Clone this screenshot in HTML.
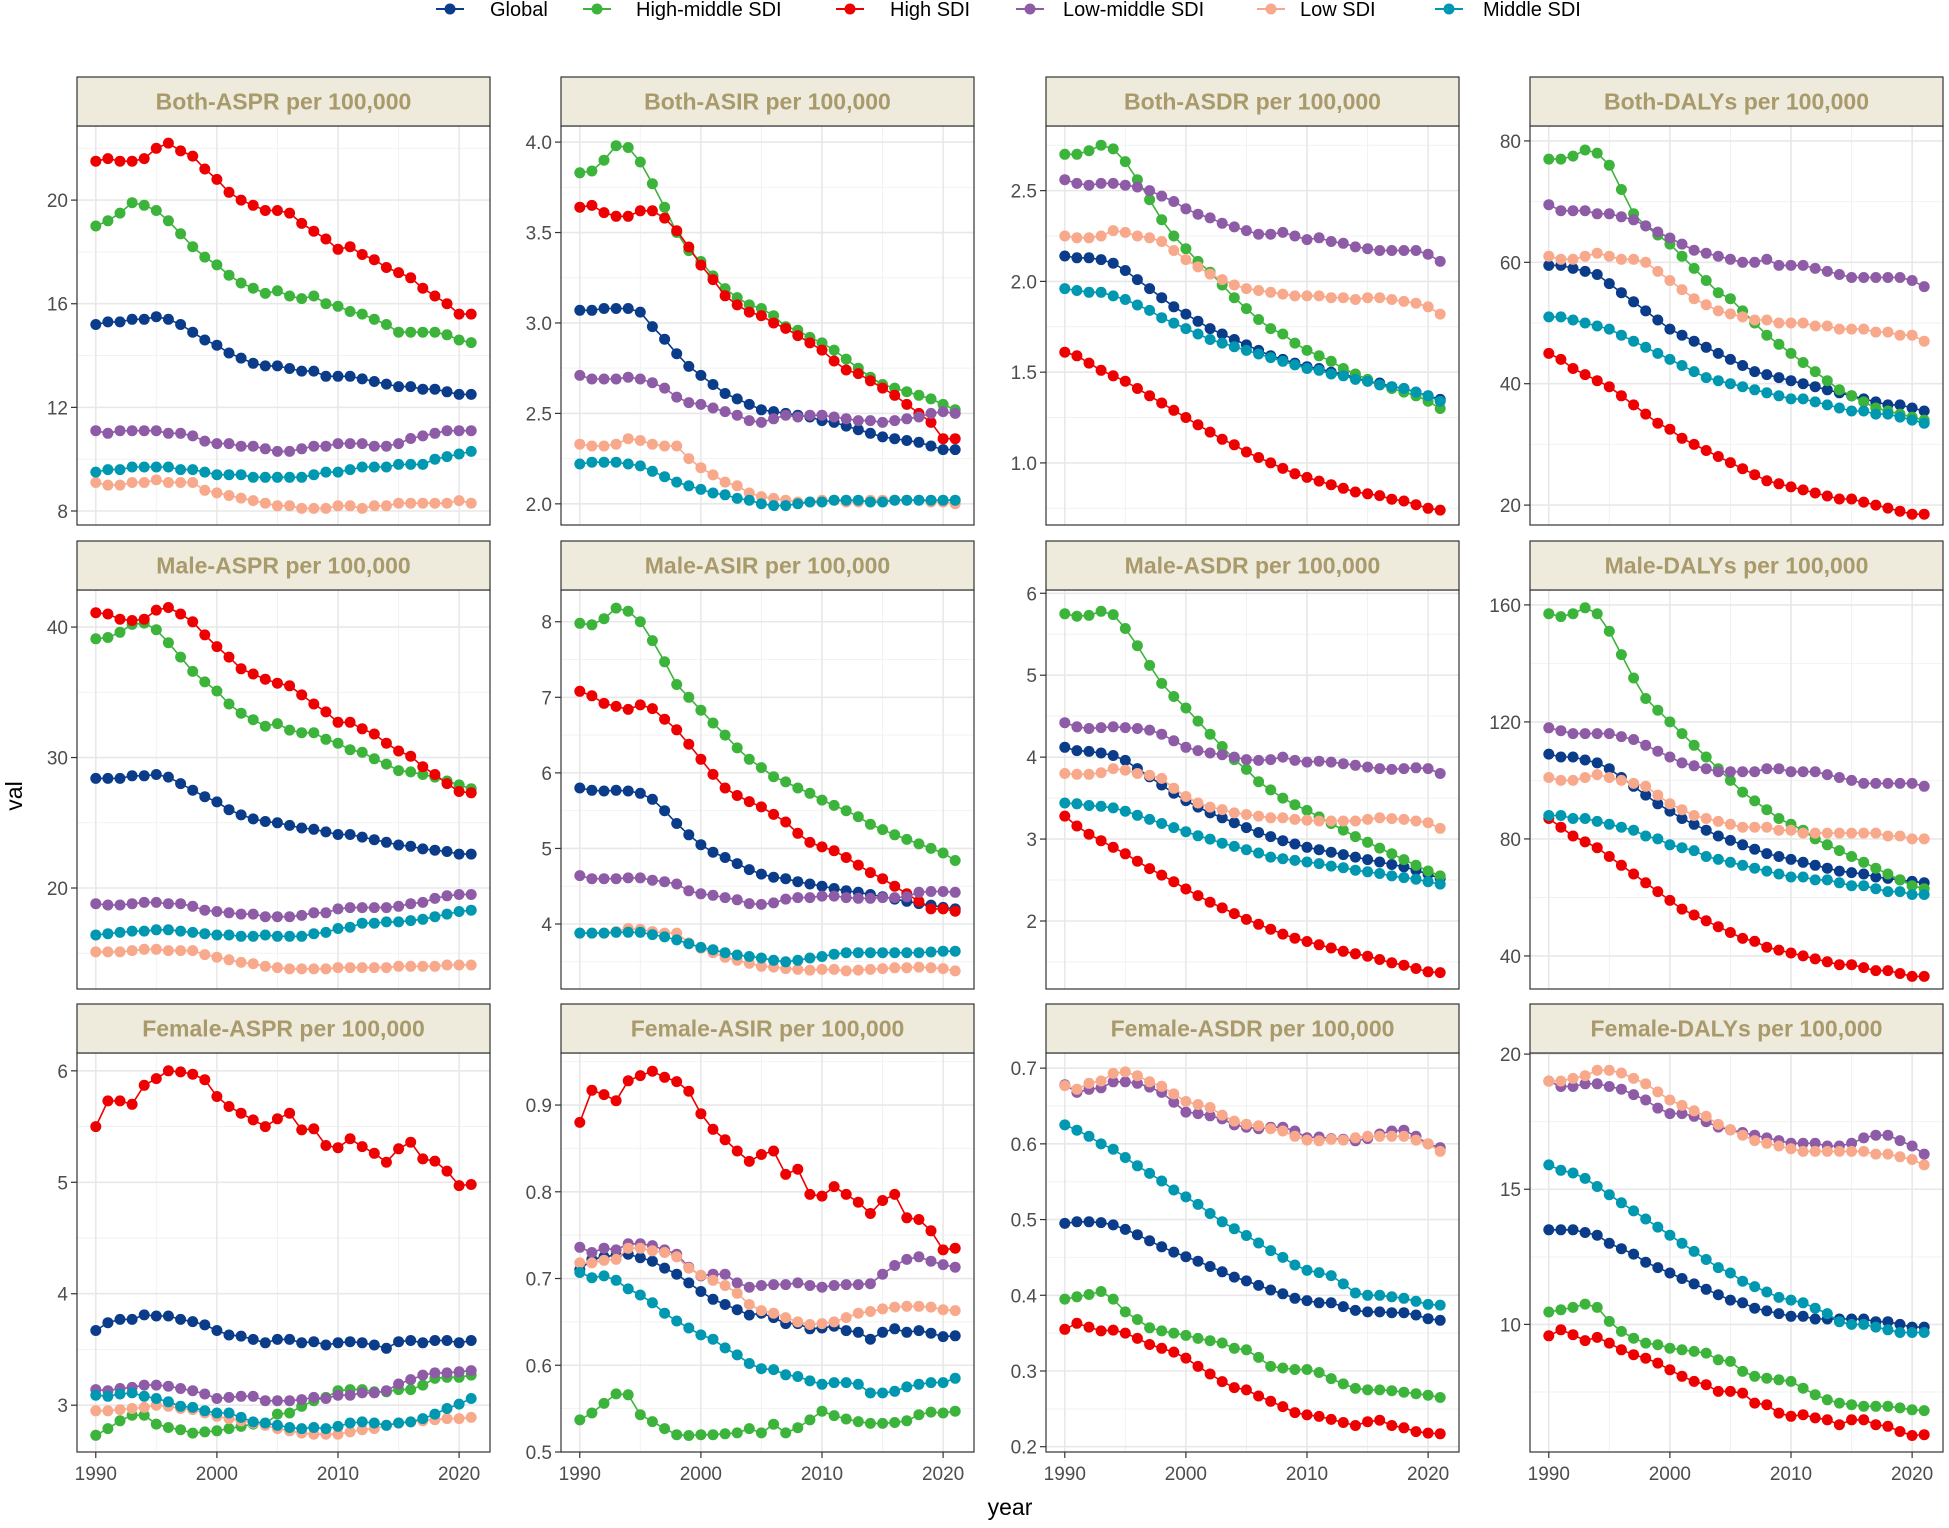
<!DOCTYPE html>
<html><head><meta charset="utf-8">
<style>
html,body{margin:0;padding:0;background:#fff;}
body{width:1949px;height:1523px;overflow:hidden;font-family:"Liberation Sans",sans-serif;}
</style></head>
<body>
<svg id="chart" width="1949" height="1523" xmlns="http://www.w3.org/2000/svg" font-family="Liberation Sans, sans-serif"></svg>
<script>
const years = [];
for (let y = 1990; y <= 2021; y++) years.push(y);
const seriesNames = ["Global","High-middle SDI","High SDI","Low-middle SDI","Low SDI","Middle SDI"];
const seriesColors = ["#0a3c8a","#3cb43c","#ee0000","#8e5ba6","#f9a98b","#0098b0"];
const panelTitles = ["Both-ASPR per 100,000","Both-ASIR per 100,000","Both-ASDR per 100,000","Both-DALYs per 100,000","Male-ASPR per 100,000","Male-ASIR per 100,000","Male-ASDR per 100,000","Male-DALYs per 100,000","Female-ASPR per 100,000","Female-ASIR per 100,000","Female-ASDR per 100,000","Female-DALYs per 100,000"];
const xTicks = [1990,2000,2010,2020];
const yTicks1=[8,12,16,20], yTicks2=[2.0,2.5,3.0,3.5,4.0], yTicks3=[1.0,1.5,2.0,2.5], yTicks4=[20,40,60,80];
const yTicks5=[20,30,40], yTicks6=[4,5,6,7,8], yTicks7=[2,3,4,5,6], yTicks8=[40,80,120,160];
const yTicks9=[3,4,5,6], yTicks10=[0.5,0.6,0.7,0.8,0.9], yTicks11=[0.2,0.3,0.4,0.5,0.6,0.7], yTicks12=[10,15,20];
const yRange1=[7.46,22.86], yRange2=[1.883,4.089], yRange3=[0.658,2.856], yRange4=[16.72,82.46];
const yRange5=[12.26,42.84], yRange6=[3.14,8.42], yRange7=[1.17,6.04], yRange8=[28.7,165.1];
const yRange9=[2.58,6.16], yRange10=[0.5,0.96], yRange11=[0.193,0.72], yRange12=[5.28,20.04];
const tickDecimals=[0,1,1,0,0,0,0,0,0,1,1,0];

// Panel 1 Both-ASPR
const p1_global=[15.2,15.3,15.3,15.4,15.4,15.5,15.4,15.2,14.9,14.6,14.4,14.1,13.9,13.7,13.6,13.6,13.5,13.4,13.4,13.2,13.2,13.2,13.1,13.0,12.9,12.8,12.8,12.7,12.7,12.6,12.5,12.5];
const p1_highmid=[19.0,19.2,19.5,19.9,19.8,19.6,19.2,18.7,18.2,17.8,17.5,17.1,16.8,16.6,16.4,16.5,16.3,16.2,16.3,16.0,15.9,15.7,15.6,15.4,15.2,14.9,14.9,14.9,14.9,14.8,14.6,14.5];
const p1_high=[21.5,21.6,21.5,21.5,21.6,22.0,22.2,21.9,21.7,21.2,20.8,20.3,20.0,19.8,19.6,19.6,19.5,19.1,18.8,18.5,18.1,18.2,17.9,17.7,17.4,17.2,17.0,16.6,16.3,16.0,15.6,15.6];
const p1_lowmid=[11.1,11.0,11.1,11.1,11.1,11.1,11.0,11.0,10.9,10.7,10.6,10.6,10.5,10.5,10.4,10.3,10.3,10.4,10.5,10.5,10.6,10.6,10.6,10.5,10.5,10.6,10.8,10.9,11.0,11.1,11.1,11.1];
const p1_low=[9.1,9.0,9.0,9.1,9.1,9.2,9.1,9.1,9.1,8.8,8.7,8.6,8.5,8.4,8.3,8.2,8.2,8.1,8.1,8.1,8.2,8.2,8.1,8.2,8.2,8.3,8.3,8.3,8.3,8.3,8.4,8.3];
const p1_middle=[9.5,9.6,9.6,9.7,9.7,9.7,9.7,9.6,9.6,9.5,9.4,9.4,9.4,9.3,9.3,9.3,9.3,9.3,9.4,9.5,9.5,9.6,9.7,9.7,9.7,9.8,9.8,9.8,10.0,10.1,10.2,10.3];
// Panel 2 Both-ASIR
const p2_global=[3.07,3.07,3.08,3.08,3.08,3.06,2.98,2.91,2.83,2.76,2.71,2.66,2.61,2.58,2.55,2.52,2.51,2.50,2.49,2.48,2.46,2.45,2.43,2.41,2.39,2.37,2.36,2.35,2.34,2.32,2.30,2.30];
const p2_highmid=[3.83,3.84,3.90,3.98,3.97,3.89,3.77,3.64,3.50,3.40,3.34,3.26,3.19,3.14,3.10,3.08,3.04,2.98,2.96,2.92,2.89,2.85,2.80,2.75,2.70,2.66,2.64,2.62,2.60,2.58,2.55,2.52];
const p2_high=[3.64,3.65,3.61,3.59,3.59,3.62,3.62,3.58,3.51,3.42,3.32,3.24,3.15,3.10,3.06,3.04,3.00,2.97,2.93,2.89,2.85,2.79,2.74,2.72,2.68,2.64,2.60,2.55,2.50,2.45,2.36,2.36];
const p2_lowmid=[2.71,2.69,2.69,2.69,2.70,2.69,2.67,2.64,2.59,2.56,2.55,2.53,2.51,2.49,2.46,2.45,2.47,2.49,2.48,2.49,2.49,2.48,2.47,2.46,2.46,2.45,2.46,2.47,2.48,2.50,2.51,2.50];
const p2_low=[2.33,2.32,2.32,2.33,2.36,2.35,2.33,2.32,2.32,2.25,2.20,2.16,2.12,2.10,2.06,2.04,2.03,2.02,2.01,2.01,2.02,2.02,2.01,2.01,2.02,2.02,2.02,2.02,2.02,2.01,2.01,2.00];
const p2_middle=[2.22,2.23,2.23,2.23,2.22,2.21,2.18,2.15,2.12,2.10,2.08,2.06,2.05,2.03,2.02,2.00,1.99,1.99,2.00,2.01,2.01,2.02,2.02,2.02,2.01,2.01,2.02,2.02,2.02,2.02,2.02,2.02];
// Panel 3 Both-ASDR
const p3_global=[2.14,2.13,2.13,2.12,2.10,2.06,2.01,1.96,1.91,1.86,1.82,1.78,1.74,1.71,1.68,1.65,1.62,1.59,1.57,1.55,1.53,1.52,1.50,1.49,1.47,1.45,1.44,1.42,1.41,1.39,1.37,1.35];
const p3_highmid=[2.70,2.70,2.72,2.75,2.73,2.66,2.56,2.45,2.34,2.25,2.18,2.11,2.05,1.98,1.91,1.85,1.79,1.74,1.71,1.66,1.62,1.59,1.56,1.52,1.49,1.46,1.43,1.41,1.39,1.37,1.34,1.30];
const p3_high=[1.61,1.59,1.55,1.51,1.48,1.45,1.41,1.37,1.33,1.29,1.25,1.21,1.17,1.13,1.10,1.06,1.03,1.00,0.97,0.94,0.92,0.90,0.88,0.86,0.84,0.83,0.82,0.80,0.79,0.77,0.75,0.74];
const p3_lowmid=[2.56,2.54,2.53,2.54,2.54,2.53,2.52,2.50,2.47,2.44,2.40,2.37,2.35,2.32,2.30,2.28,2.26,2.26,2.27,2.25,2.23,2.24,2.22,2.21,2.19,2.18,2.17,2.17,2.17,2.17,2.15,2.11];
const p3_low=[2.25,2.24,2.24,2.25,2.28,2.27,2.25,2.24,2.22,2.17,2.12,2.08,2.04,2.01,1.98,1.96,1.95,1.94,1.93,1.92,1.92,1.92,1.91,1.91,1.90,1.91,1.91,1.90,1.89,1.88,1.86,1.82];
const p3_middle=[1.96,1.95,1.94,1.94,1.92,1.90,1.87,1.84,1.80,1.77,1.74,1.71,1.68,1.66,1.64,1.62,1.60,1.58,1.56,1.54,1.52,1.51,1.49,1.48,1.46,1.45,1.43,1.42,1.41,1.39,1.37,1.34];
// Panel 4 Both-DALYs
const p4_global=[59.5,59.5,59,58.5,58,56.5,55,53.5,52,50.5,49,48,47,46,45,44,43,42,41.5,41,40.5,40,39.5,39,38.5,38,37.5,37,36.5,36.5,36,35.5];
const p4_highmid=[77,77,77.5,78.5,78,76,72,68,66,64.5,63,61,59,57,55,54,52,50,48,46.5,45,43.5,42,40.5,39,38,37,36,35.5,35,34.5,34];
const p4_high=[45,44,42.5,41.5,40.5,39.5,38,36.5,35,33.5,32.5,31,30,29,28,27,26,25,24,23.5,23,22.5,22,21.5,21,21,20.5,20,19.5,19,18.5,18.5];
const p4_lowmid=[69.5,68.5,68.5,68.5,68,68,67.5,67,66,65,64,63,62,61.5,61,60.5,60,60,60.5,59.5,59.5,59.5,59,58.5,58,57.5,57.5,57.5,57.5,57.5,57,56];
const p4_low=[61,60.5,60.5,61,61.5,61,60.5,60.5,60,58.5,57,55.5,54,53,52,51.5,51,50.5,50.5,50,50,50,49.5,49.5,49,49,49,48.5,48.5,48,48,47];
const p4_middle=[51,51,50.5,50,49.5,49,48,47,46,45,44,43,42,41,40.5,40,39.5,39,38.5,38,37.5,37.5,37,36.5,36,35.5,35.5,35,35,34.5,34,33.5];
// Panel 5 Male-ASPR
const p5_global=[28.4,28.4,28.4,28.6,28.6,28.7,28.5,28.0,27.5,27.0,26.6,26.0,25.6,25.3,25.1,25.0,24.8,24.6,24.5,24.3,24.1,24.1,23.9,23.7,23.5,23.3,23.2,23.0,22.9,22.8,22.6,22.6];
const p5_highmid=[39.1,39.2,39.6,40.2,40.3,39.8,38.8,37.7,36.6,35.8,35.1,34.1,33.4,32.9,32.4,32.6,32.1,31.9,31.9,31.4,31.1,30.6,30.4,29.9,29.5,29.0,28.9,28.7,28.5,28.2,27.9,27.6];
const p5_high=[41.1,41.0,40.6,40.5,40.6,41.3,41.5,41.0,40.4,39.4,38.5,37.7,36.8,36.4,36.0,35.7,35.5,34.8,34.1,33.5,32.7,32.7,32.2,31.8,31.1,30.5,30.1,29.3,28.7,28.0,27.4,27.3];
const p5_lowmid=[18.8,18.7,18.7,18.8,18.9,18.9,18.8,18.8,18.6,18.3,18.2,18.1,18.0,18.0,17.8,17.8,17.8,17.9,18.1,18.1,18.4,18.5,18.5,18.5,18.5,18.6,18.8,18.9,19.2,19.4,19.5,19.5];
const p5_low=[15.1,15.1,15.1,15.2,15.3,15.3,15.2,15.2,15.2,14.9,14.7,14.5,14.3,14.2,14.0,13.9,13.8,13.8,13.8,13.8,13.9,13.9,13.9,13.9,13.9,14.0,14.0,14.0,14.0,14.1,14.1,14.1];
const p5_middle=[16.4,16.5,16.6,16.7,16.7,16.8,16.8,16.7,16.6,16.5,16.4,16.4,16.3,16.3,16.4,16.3,16.3,16.3,16.5,16.6,16.9,17.0,17.3,17.3,17.4,17.4,17.5,17.6,17.8,18.0,18.2,18.3];
// Panel 6 Male-ASIR
const p6_global=[5.8,5.77,5.76,5.77,5.76,5.73,5.65,5.5,5.33,5.18,5.05,4.95,4.88,4.8,4.72,4.66,4.62,4.6,4.56,4.53,4.5,4.47,4.44,4.42,4.39,4.36,4.33,4.3,4.27,4.25,4.22,4.2];
const p6_highmid=[7.98,7.96,8.04,8.18,8.14,8.0,7.75,7.47,7.17,7.0,6.83,6.66,6.5,6.33,6.18,6.07,5.95,5.88,5.8,5.73,5.64,5.57,5.5,5.42,5.32,5.25,5.18,5.12,5.06,5.0,4.94,4.84];
const p6_high=[7.08,7.02,6.92,6.88,6.84,6.90,6.85,6.71,6.57,6.38,6.18,5.98,5.8,5.7,5.62,5.55,5.45,5.35,5.2,5.08,5.02,4.97,4.88,4.78,4.68,4.6,4.5,4.4,4.3,4.2,4.2,4.17];
const p6_lowmid=[4.64,4.6,4.6,4.6,4.61,4.61,4.58,4.56,4.53,4.44,4.4,4.38,4.35,4.32,4.27,4.26,4.28,4.33,4.35,4.35,4.37,4.37,4.35,4.34,4.34,4.35,4.35,4.36,4.42,4.43,4.43,4.42];
const p6_low=[3.88,3.88,3.88,3.9,3.94,3.93,3.9,3.88,3.88,3.75,3.68,3.62,3.56,3.52,3.48,3.44,3.43,3.41,3.40,3.39,3.40,3.40,3.38,3.39,3.40,3.41,3.42,3.42,3.43,3.42,3.41,3.38];
const p6_middle=[3.88,3.88,3.88,3.89,3.89,3.89,3.86,3.83,3.79,3.74,3.69,3.66,3.62,3.59,3.57,3.55,3.52,3.50,3.52,3.55,3.57,3.60,3.62,3.62,3.62,3.62,3.62,3.62,3.62,3.63,3.64,3.64];
// Panel 7 Male-ASDR
const p7_global=[4.12,4.08,4.07,4.05,4.02,3.96,3.86,3.76,3.66,3.56,3.47,3.39,3.32,3.26,3.2,3.14,3.08,3.03,2.98,2.94,2.9,2.87,2.84,2.81,2.78,2.75,2.72,2.69,2.66,2.62,2.57,2.52];
const p7_highmid=[5.75,5.72,5.73,5.78,5.74,5.57,5.36,5.12,4.9,4.74,4.6,4.44,4.28,4.13,3.97,3.85,3.7,3.6,3.5,3.42,3.35,3.27,3.19,3.11,3.03,2.96,2.89,2.82,2.75,2.68,2.61,2.55];
const p7_high=[3.28,3.16,3.06,2.98,2.9,2.82,2.73,2.64,2.56,2.48,2.39,2.31,2.23,2.16,2.09,2.02,1.96,1.9,1.84,1.79,1.75,1.71,1.67,1.63,1.6,1.57,1.53,1.49,1.46,1.42,1.38,1.37];
const p7_lowmid=[4.42,4.37,4.35,4.36,4.37,4.36,4.35,4.33,4.28,4.2,4.12,4.08,4.05,4.03,4.0,3.97,3.96,3.97,4.0,3.96,3.94,3.95,3.94,3.92,3.90,3.88,3.86,3.85,3.86,3.87,3.86,3.80];
const p7_low=[3.8,3.79,3.79,3.81,3.86,3.84,3.8,3.78,3.74,3.62,3.52,3.44,3.39,3.36,3.32,3.3,3.28,3.26,3.26,3.24,3.23,3.22,3.22,3.22,3.22,3.24,3.26,3.25,3.24,3.22,3.2,3.13];
const p7_middle=[3.44,3.43,3.41,3.4,3.38,3.34,3.29,3.24,3.19,3.14,3.09,3.04,3.0,2.95,2.91,2.87,2.83,2.78,2.76,2.74,2.72,2.7,2.67,2.65,2.62,2.6,2.58,2.55,2.53,2.51,2.48,2.45];
// Panel 8 Male-DALYs
const p8_global=[109,108,108,107,106,104,101,98,95,92,89.5,87,85,83,81,79.5,78,76.5,75,74,73,72,71,70,69,68.5,68,67,66.5,66,65.5,65];
const p8_highmid=[157,156,157,159,157,151,143,135,128,124,120,116,112,108,104,100,96,93,90,87,85,83,80,78,76,74,72,70,68,66,64,63];
const p8_high=[87,84,81,79,77,74,71,68,65,62,59,56,54,52,50,48,46,45,43,42,41,40,39,38,37,37,36,35,35,34,33,33];
const p8_lowmid=[118,117,116,116,116,116,115,114,112,110,108,106,105,104,103,103,103,103,104,104,103,103,103,102,101,100,99,99,99,99,99,98];
const p8_low=[101,100,100,101,102,101,100,99,98,95,92,90,88,87,86,85,84,84,84,83,83,82,82,82,82,82,82,82,81,81,80,80];
const p8_middle=[88,88,87,87,86,85,84,83,81,80,78,77,76,74,73,72,71,70,69,68,67,67,66,66,65,64,64,63,62,62,61,61];
// Panel 9 Female-ASPR
const p9_global=[3.67,3.74,3.77,3.77,3.81,3.8,3.8,3.77,3.75,3.72,3.67,3.63,3.62,3.59,3.56,3.59,3.59,3.56,3.57,3.54,3.56,3.57,3.56,3.54,3.51,3.57,3.58,3.56,3.58,3.58,3.56,3.58];
const p9_highmid=[2.73,2.79,2.86,2.91,2.91,2.83,2.8,2.78,2.75,2.76,2.77,2.79,2.81,2.83,2.83,2.92,2.93,2.99,3.04,3.07,3.13,3.14,3.14,3.12,3.12,3.14,3.14,3.18,3.24,3.25,3.25,3.27];
const p9_high=[5.5,5.73,5.73,5.7,5.87,5.93,6.0,5.99,5.97,5.92,5.77,5.68,5.62,5.56,5.5,5.57,5.62,5.47,5.48,5.33,5.31,5.39,5.32,5.26,5.18,5.3,5.36,5.21,5.19,5.1,4.97,4.98];
const p9_lowmid=[3.14,3.13,3.15,3.16,3.18,3.18,3.17,3.15,3.13,3.1,3.06,3.07,3.08,3.08,3.04,3.04,3.04,3.05,3.07,3.06,3.09,3.09,3.11,3.11,3.13,3.19,3.23,3.27,3.29,3.29,3.30,3.31];
const p9_low=[2.95,2.95,2.96,2.97,2.98,3.0,2.99,2.97,2.96,2.93,2.9,2.88,2.86,2.84,2.82,2.79,2.77,2.75,2.74,2.74,2.74,2.76,2.78,2.79,2.82,2.84,2.85,2.86,2.87,2.88,2.88,2.89];
const p9_middle=[3.09,3.08,3.1,3.11,3.08,3.06,3.03,2.99,2.98,2.95,2.93,2.93,2.89,2.85,2.84,2.82,2.8,2.79,2.8,2.79,2.81,2.84,2.85,2.84,2.82,2.84,2.85,2.88,2.92,2.97,3.01,3.06];
// Panel 10 Female-ASIR
const p10_global=[0.71,0.722,0.725,0.727,0.728,0.724,0.72,0.712,0.705,0.695,0.685,0.676,0.67,0.664,0.658,0.66,0.655,0.648,0.648,0.642,0.643,0.645,0.64,0.638,0.63,0.638,0.642,0.638,0.64,0.637,0.633,0.634];
const p10_highmid=[0.537,0.545,0.556,0.567,0.566,0.543,0.535,0.527,0.52,0.519,0.52,0.52,0.521,0.522,0.527,0.522,0.532,0.522,0.528,0.537,0.547,0.542,0.538,0.535,0.533,0.533,0.534,0.536,0.543,0.546,0.545,0.547];
const p10_high=[0.88,0.917,0.912,0.905,0.928,0.934,0.939,0.932,0.927,0.916,0.89,0.872,0.86,0.847,0.835,0.843,0.847,0.82,0.826,0.797,0.795,0.806,0.797,0.788,0.775,0.79,0.797,0.77,0.768,0.755,0.733,0.735];
const p10_lowmid=[0.736,0.73,0.735,0.733,0.74,0.74,0.738,0.733,0.728,0.713,0.703,0.705,0.705,0.695,0.69,0.692,0.693,0.693,0.695,0.692,0.69,0.692,0.693,0.693,0.694,0.705,0.715,0.722,0.725,0.72,0.716,0.713];
const p10_low=[0.718,0.718,0.721,0.722,0.735,0.735,0.732,0.73,0.725,0.712,0.704,0.698,0.692,0.683,0.67,0.663,0.66,0.655,0.65,0.647,0.648,0.65,0.655,0.66,0.662,0.665,0.667,0.668,0.668,0.667,0.664,0.663];
const p10_middle=[0.707,0.701,0.703,0.698,0.688,0.681,0.672,0.66,0.651,0.643,0.635,0.63,0.62,0.612,0.602,0.596,0.595,0.589,0.587,0.582,0.578,0.58,0.58,0.578,0.568,0.568,0.57,0.575,0.578,0.58,0.58,0.585];
// Panel 11 Female-ASDR
const p11_global=[0.495,0.497,0.497,0.496,0.493,0.487,0.48,0.472,0.464,0.457,0.451,0.445,0.438,0.431,0.424,0.419,0.413,0.407,0.402,0.396,0.393,0.39,0.39,0.385,0.38,0.378,0.378,0.377,0.377,0.374,0.369,0.367];
const p11_highmid=[0.395,0.398,0.401,0.405,0.395,0.378,0.368,0.357,0.353,0.35,0.347,0.343,0.34,0.337,0.33,0.328,0.318,0.306,0.304,0.302,0.302,0.298,0.29,0.283,0.277,0.275,0.275,0.274,0.272,0.27,0.268,0.265];
const p11_high=[0.355,0.363,0.358,0.353,0.354,0.35,0.343,0.335,0.33,0.325,0.317,0.306,0.296,0.286,0.278,0.275,0.267,0.26,0.253,0.245,0.242,0.24,0.236,0.232,0.228,0.233,0.235,0.228,0.225,0.22,0.218,0.217];
const p11_lowmid=[0.678,0.668,0.672,0.674,0.682,0.682,0.68,0.675,0.668,0.655,0.642,0.64,0.637,0.633,0.625,0.622,0.62,0.622,0.622,0.617,0.608,0.609,0.607,0.606,0.604,0.607,0.613,0.617,0.618,0.61,0.6,0.595];
const p11_low=[0.677,0.672,0.68,0.683,0.693,0.695,0.69,0.682,0.676,0.666,0.656,0.652,0.648,0.638,0.63,0.626,0.624,0.62,0.617,0.61,0.605,0.604,0.606,0.605,0.608,0.61,0.61,0.61,0.61,0.605,0.6,0.59];
const p11_middle=[0.625,0.618,0.61,0.6,0.593,0.582,0.571,0.561,0.551,0.539,0.53,0.52,0.508,0.497,0.488,0.479,0.469,0.459,0.45,0.44,0.433,0.43,0.426,0.415,0.403,0.4,0.4,0.398,0.396,0.392,0.388,0.387];
// Panel 12 Female-DALYs
const p12_global=[13.5,13.5,13.5,13.4,13.3,13.0,12.8,12.6,12.3,12.1,11.9,11.7,11.5,11.3,11.1,10.9,10.8,10.6,10.5,10.4,10.3,10.3,10.2,10.2,10.2,10.2,10.2,10.1,10.1,10.0,9.9,9.9];
const p12_highmid=[10.46,10.54,10.63,10.75,10.63,10.11,9.74,9.49,9.31,9.25,9.12,9.06,9.0,8.94,8.69,8.63,8.26,8.08,8.01,7.95,7.89,7.64,7.4,7.21,7.09,7.03,6.97,6.97,6.97,6.91,6.84,6.81];
const p12_high=[9.58,9.8,9.62,9.4,9.52,9.31,9.06,8.88,8.75,8.57,8.32,8.08,7.89,7.77,7.52,7.52,7.46,7.09,7.03,6.72,6.6,6.66,6.54,6.47,6.29,6.47,6.47,6.29,6.23,6.04,5.89,5.92];
const p12_lowmid=[19,18.8,18.8,18.9,18.9,18.8,18.7,18.5,18.3,18.0,17.8,17.8,17.7,17.5,17.3,17.2,17.1,17.0,16.9,16.8,16.7,16.7,16.7,16.6,16.6,16.7,16.9,17.0,17.0,16.8,16.6,16.3];
const p12_low=[19,19,19.1,19.2,19.4,19.4,19.3,19.1,18.9,18.6,18.3,18.1,17.9,17.7,17.4,17.2,17.0,16.8,16.7,16.6,16.5,16.4,16.4,16.4,16.4,16.4,16.4,16.3,16.3,16.2,16.1,15.9];
const p12_middle=[15.9,15.7,15.6,15.4,15.1,14.8,14.5,14.2,13.9,13.6,13.3,13.0,12.7,12.4,12.1,11.9,11.6,11.4,11.2,11.0,10.9,10.8,10.6,10.4,10.1,10.0,10.0,9.9,9.8,9.7,9.7,9.7];

const panelData=[
 [p1_global,p1_highmid,p1_high,p1_lowmid,p1_low,p1_middle],
 [p2_global,p2_highmid,p2_high,p2_lowmid,p2_low,p2_middle],
 [p3_global,p3_highmid,p3_high,p3_lowmid,p3_low,p3_middle],
 [p4_global,p4_highmid,p4_high,p4_lowmid,p4_low,p4_middle],
 [p5_global,p5_highmid,p5_high,p5_lowmid,p5_low,p5_middle],
 [p6_global,p6_highmid,p6_high,p6_lowmid,p6_low,p6_middle],
 [p7_global,p7_highmid,p7_high,p7_lowmid,p7_low,p7_middle],
 [p8_global,p8_highmid,p8_high,p8_lowmid,p8_low,p8_middle],
 [p9_global,p9_highmid,p9_high,p9_lowmid,p9_low,p9_middle],
 [p10_global,p10_highmid,p10_high,p10_lowmid,p10_low,p10_middle],
 [p11_global,p11_highmid,p11_high,p11_lowmid,p11_low,p11_middle],
 [p12_global,p12_highmid,p12_high,p12_lowmid,p12_low,p12_middle]];
const panelTicks=[yTicks1,yTicks2,yTicks3,yTicks4,yTicks5,yTicks6,yTicks7,yTicks8,yTicks9,yTicks10,yTicks11,yTicks12];
const panelRanges=[yRange1,yRange2,yRange3,yRange4,yRange5,yRange6,yRange7,yRange8,yRange9,yRange10,yRange11,yRange12];

const NS="http://www.w3.org/2000/svg";
const svg=document.getElementById('chart');
function mk(tag,attrs,parent){const e=document.createElementNS(NS,tag);for(const k in attrs)e.setAttribute(k,attrs[k]);(parent||svg).appendChild(e);return e;}

const colLeft=[77,561,1046,1530], panelW=413;
const rowTop=[77,541,1004], stripH=49, plotH=399;
const xMin=1990-1.55, xMax=2021+1.55;

// legend
const legX=[450,597,850,1030,1271,1449], legTX=[490,636,890,1063,1300,1483];
const leg=mk('g',{});


seriesNames.forEach((n,i)=>{
  const g=mk('g',{},leg);
  
  
  mk('line',{x1:legX[i]-14,x2:legX[i]+14,y1:9,y2:9,stroke:seriesColors[i],'stroke-width':2},g);
  mk('circle',{cx:legX[i],cy:9,r:5.5,fill:seriesColors[i]},g);
  const t=mk('text',{x:legTX[i],y:16,'font-size':20,fill:'#000'},g);t.textContent=n;
});

for(let p=0;p<12;p++){
  const r=Math.floor(p/4),c=p%4;
  const L=colLeft[c],T=rowTop[r]+stripH,W=panelW,H=plotH;
  const yr=panelRanges[p];
  const xs=v=>L+(v-xMin)/(xMax-xMin)*W;
  const ys=v=>T+H-(v-yr[0])/(yr[1]-yr[0])*H;
  const g=mk('g',{});
  
  
  mk('rect',{x:L,y:T,width:W,height:H,fill:'#fff'},g);
  const ticks=panelTicks[p];const step=ticks[1]-ticks[0];
  const minors=ticks.map(t=>t-step/2).concat([ticks[ticks.length-1]+step/2]);
  minors.forEach(m=>{if(m>yr[0]&&m<yr[1])mk('line',{x1:L,x2:L+W,y1:ys(m),y2:ys(m),stroke:'#f2f2f2','stroke-width':1},g);});
  [1995,2005,2015].forEach(m=>mk('line',{x1:xs(m),x2:xs(m),y1:T,y2:T+H,stroke:'#f2f2f2','stroke-width':1},g));
  ticks.forEach(t=>mk('line',{x1:L,x2:L+W,y1:ys(t),y2:ys(t),stroke:'#e8e8e8','stroke-width':1.6},g));
  xTicks.forEach(t=>mk('line',{x1:xs(t),x2:xs(t),y1:T,y2:T+H,stroke:'#e8e8e8','stroke-width':1.6},g));
  panelData[p].forEach((arr,si)=>{
    const sg=mk('g',{},g);
    
    
    const pts=arr.map((v,i)=>xs(years[i]).toFixed(1)+','+ys(v).toFixed(1)).join(' ');
    mk('polyline',{points:pts,fill:'none',stroke:seriesColors[si],'stroke-width':1.6},sg);
    arr.forEach((v,i)=>mk('circle',{cx:xs(years[i]).toFixed(1),cy:ys(v).toFixed(1),r:5.5,fill:seriesColors[si]},sg));
  });
  mk('rect',{x:L,y:T,width:W,height:H,fill:'none',stroke:'#333','stroke-width':1.2},g);
  mk('rect',{x:L,y:rowTop[r],width:W,height:stripH,fill:'#eeeadc',stroke:'#333','stroke-width':1.2},g);
  const st=mk('text',{x:L+W/2,y:rowTop[r]+stripH/2+8,'text-anchor':'middle','font-size':23,'font-weight':'bold',fill:'#a89a6a'},g);
  
  
  st.textContent=panelTitles[p];
  ticks.forEach(t=>{
    mk('line',{x1:L-6,x2:L,y1:ys(t),y2:ys(t),stroke:'#333','stroke-width':1.2},g);
    const tx=mk('text',{x:L-9,y:ys(t)+7,'text-anchor':'end','font-size':19,fill:'#4d4d4d'},g);
    tx.textContent=t.toFixed(tickDecimals[p]);
  });
  if(r===2){
    xTicks.forEach(t=>{
      mk('line',{x1:xs(t),x2:xs(t),y1:T+H,y2:T+H+6,stroke:'#333','stroke-width':1.2},g);
      const tx=mk('text',{x:xs(t),y:T+H+28,'text-anchor':'middle','font-size':19,fill:'#4d4d4d'},g);
      tx.textContent=t;
    });
  }
}
const yt=mk('text',{x:22,y:796,'text-anchor':'middle','font-size':23,fill:'#000',transform:'rotate(-90 22 796)'});


yt.textContent='val';
const xt=mk('text',{x:1010,y:1515,'text-anchor':'middle','font-size':23,fill:'#000'});


xt.textContent='year';
</script>
</body></html>
